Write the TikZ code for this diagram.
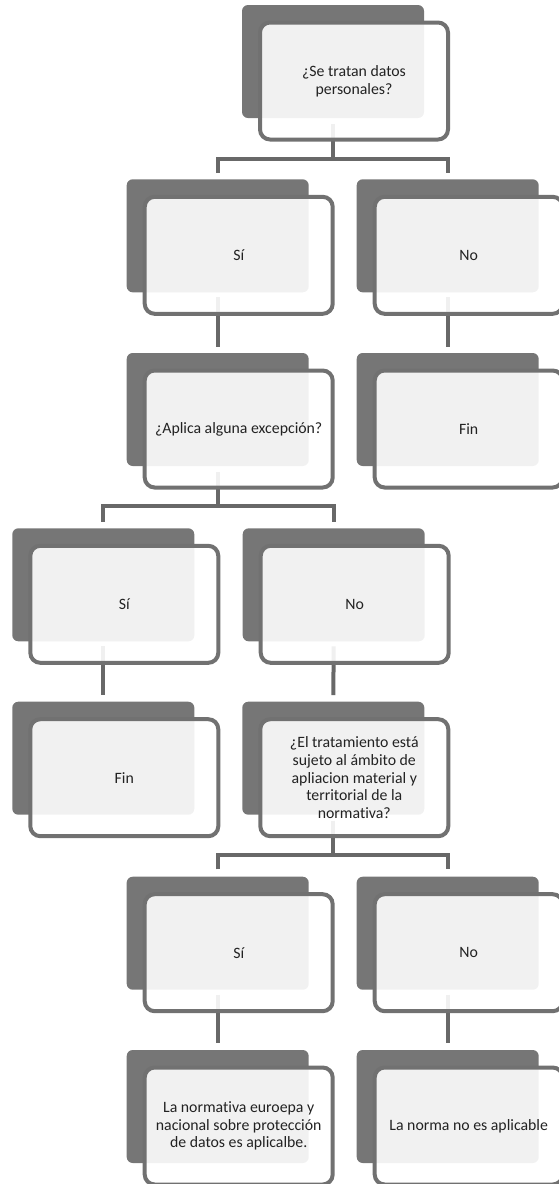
\documentclass[tikz,border=0pt]{standalone}
\usepackage{fontspec}
\setmainfont{Carlito}[Ligatures=NoCommon]
\usetikzlibrary{calc}
\definecolor{darkfill}{HTML}{767676}
\definecolor{edgec}{HTML}{717171}
\definecolor{linec}{HTML}{686868}
\definecolor{txt}{HTML}{222222}
\pgfdeclarelayer{bg}
\pgfsetlayers{bg,main}
\begin{document}
\begin{tikzpicture}[x=1pt,y=-1pt,
  back/.style={fill=darkfill, draw=none, rounded corners=6pt, minimum width=182pt,
    minimum height=113pt, inner sep=0pt, outer sep=0pt, anchor=north west},
  front/.style={draw=edgec, line width=4pt, fill=white, fill opacity=0.9, draw opacity=1,
    text opacity=1, rounded corners=10pt, minimum width=188pt, minimum height=117pt,
    inner sep=2pt, outer sep=0pt, align=center, text=txt,
    font=\fontsize{15.8}{17.7}\selectfont},
  conn/.style={draw=linec, line width=4pt, line join=miter}]
\useasboundingbox (0,0) rectangle (558,1184);

% level 1
\node[back] (d1) at (242,5) {};
\node[front] (f1) at ($(d1.north west)+(112,76)$) {¿Se tratan datos\\personales?};
% level 2
\node[back] (d2) at (126.7,179.3) {};
\node[front] (f2) at ($(d2.north west)+(112,76)$) {Sí};
\node[back] (d3) at (356.7,179.3) {};
\node[front] (f3) at ($(d3.north west)+(112,76)$) {No};
% level 3
\node[back] (d4) at (126.7,353) {};
\node[front] (f4) at ($(d4.north west)+(112,76)$) {¿Aplica alguna excepción?};
\node[back] (d5) at (356.7,353) {};
\node[front] (f5) at ($(d5.north west)+(112,76)$) {Fin};
% level 4
\node[back] (d6) at (12.3,528.3) {};
\node[front] (f6) at ($(d6.north west)+(112,76)$) {Sí};
\node[back] (d7) at (242.7,528.3) {};
\node[front] (f7) at ($(d7.north west)+(112,76)$) {No};
% level 5
\node[back] (d8) at (12.3,701.7) {};
\node[front] (f8) at ($(d8.north west)+(112,76)$) {Fin};
\node[back] (d9) at (242.3,701.7) {};
\node[front] (f9) at ($(d9.north west)+(112,76)$) {¿El tratamiento está\\sujeto al ámbito de\\apliacion material y\\territorial de la\\normativa?};
% level 6
\node[back] (d10) at (126.7,876.7) {};
\node[front] (f10) at ($(d10.north west)+(112,76)$) {Sí};
\node[back] (d11) at (356.7,876.7) {};
\node[front] (f11) at ($(d11.north west)+(112,76)$) {No};
% level 7
\node[back] (d12) at (126.7,1050) {};
\node[front] (f12) at ($(d12.north west)+(112,76)$) {La normativa euroepa y\\nacional sobre protección\\de datos es aplicalbe.};
\node[back] (d13) at (356.7,1050) {};
\node[front] (f13) at ($(d13.north west)+(112,76)$) {La norma no es aplicable};

\begin{pgfonlayer}{bg}
  \coordinate (b1) at ($(d1.south)+(0,41.3)$);
  \draw[conn, shorten <=6pt] (d1.south) -- (b1);
  \draw[conn, shorten <=6.3pt, shorten >=6.3pt] (d2.north) |- (b1) -| (d3.north);
  \draw[conn, shorten <=5pt, shorten >=6.3pt] (d2.south) -- (d4.north);
  \draw[conn, shorten <=5pt, shorten >=6.3pt] (d3.south) -- (d5.north);
  \coordinate (b2) at ($(d4.south)+(0,40)$);
  \draw[conn, shorten <=6pt] (d4.south) -- (b2);
  \draw[conn, shorten <=6.6pt, shorten >=6.6pt] (d6.north) |- (b2) -| (d7.north);
  \draw[conn, shorten <=5pt, shorten >=6.6pt] (d6.south) -- (d8.north);
  \draw[conn, shorten <=5pt, shorten >=6.6pt] (d7.south) -- (d9.north);
  \coordinate (b3) at ($(d9.south)+(0,40)$);
  \draw[conn, shorten <=6pt] (d9.south) -- (b3);
  \draw[conn, shorten <=7.4pt, shorten >=7.4pt] (d10.north) |- (b3) -| (d11.north);
  \draw[conn, shorten <=5pt, shorten >=6.7pt] (d10.south) -- (d12.north);
  \draw[conn, shorten <=5pt, shorten >=6.7pt] (d11.south) -- (d13.north);
\end{pgfonlayer}
\end{tikzpicture}
\end{document}
